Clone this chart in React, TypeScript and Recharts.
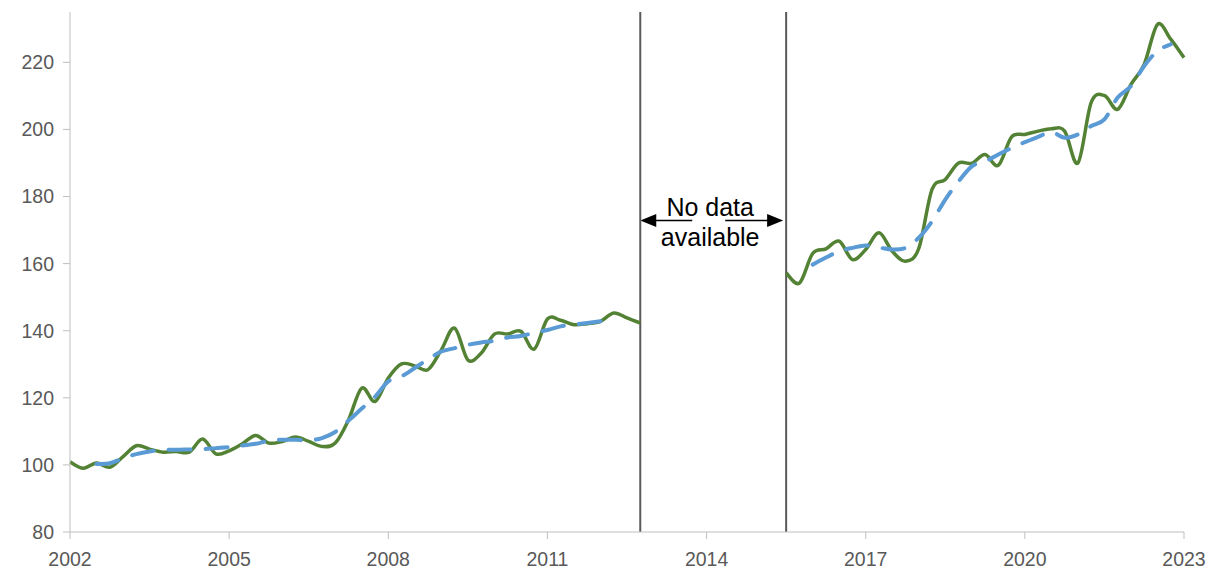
import { Line, LineChart, ReferenceArea, ReferenceLine, XAxis, YAxis } from "recharts";

// quarterly index series, 2002Q1 = 0
const startYear = 2002;
const yearTicks = [2002, 2005, 2008, 2011, 2014, 2017, 2020, 2023];
const valueTicks = [80, 100, 120, 140, 160, 180, 200, 220];

// actual, 2002Q1..2012Q4
const actualA = [
  100.9, 99.0, 100.6, 99.3, 102.5, 105.7, 104.7, 103.8, 104.0, 103.8, 107.7, 103.3,
  104.2, 106.3, 108.8, 106.5, 107.0, 108.3, 107.0, 105.5, 106.5, 113.4, 122.9, 118.9,
  125.9, 130.1, 129.5, 128.4, 134.3, 140.8, 131.3, 133.3, 139.0, 139.0, 139.8, 134.5,
  143.5, 143.1, 141.8, 142.1, 142.8, 145.3, 143.8, 142.3,
];
// actual, 2015Q3..2023Q1
const actualB = [
  157.2, 154.2, 163.0, 164.4, 166.7, 161.2, 164.2, 169.2, 163.7, 160.7, 164.5, 182.1,
  185.1, 190.0, 189.9, 192.5, 189.3, 197.8, 198.5, 199.5, 200.2, 199.5, 190.0, 208.0,
  210.1, 206.0, 213.4, 219.4, 231.3, 226.9, 221.4,
];
// trend, 2002Q3..2012Q2
const trendA = [
  100.3, 100.5, 102.0, 103.2, 104.0, 104.5, 104.5, 104.6, 104.7, 105.0, 105.3, 105.8,
  106.3, 107.2, 107.5, 107.5, 107.3, 108.0, 109.8, 113.2, 116.8, 120.3, 124.9, 126.4,
  128.9, 131.5, 133.8, 134.8, 135.8, 136.5, 137.0, 138.0, 138.4, 139.4, 140.2, 141.3,
  141.8, 142.3, 142.8, 143.3,
];
// trend, 2016Q1..2022Q4
const trendB = [
  159.7, 161.8, 163.7, 164.7, 165.4, 164.8, 164.2, 164.7, 167.7, 172.6, 179.1, 184.5,
  189.0, 190.5, 192.5, 194.5, 196.2, 197.8, 199.2, 197.5, 198.5, 201.0, 203.0, 209.5,
  212.9, 218.9, 223.4, 225.4,
];
const actualAStart = 0;
const actualBStart = 54;
const trendAStart = 2;
const trendBStart = 56;
const gapFrom = 2012.75;
const gapTo = 2015.5;

const rows: { x: number; actual: number | null; trend: number | null }[] = [];
for (let i = 0; i <= 84; i++) rows.push({ x: startYear + i / 4, actual: null, trend: null });
actualA.forEach((v, k) => (rows[actualAStart + k].actual = v));
actualB.forEach((v, k) => (rows[actualBStart + k].actual = v));
trendA.forEach((v, k) => (rows[trendAStart + k].trend = v));
trendB.forEach((v, k) => (rows[trendBStart + k].trend = v));

if (typeof document !== "undefined") document.body.style.margin = "0";

// Excel-style smoothed line (Catmull-Rom through the points)
function smooth(context: any) {
  let pts: number[][] = [];
  return {
    areaStart() {},
    areaEnd() {},
    lineStart() {
      pts = [];
    },
    lineEnd() {
      const n = pts.length;
      if (!n) return;
      context.moveTo(pts[0][0], pts[0][1]);
      for (let i = 0; i < n - 1; i++) {
        const p0 = pts[i - 1] || pts[i];
        const p1 = pts[i];
        const p2 = pts[i + 1];
        const p3 = pts[i + 2] || p2;
        context.bezierCurveTo(
          p1[0] + (p2[0] - p0[0]) / 6,
          p1[1] + (p2[1] - p0[1]) / 6,
          p2[0] - (p3[0] - p1[0]) / 6,
          p2[1] - (p3[1] - p1[1]) / 6,
          p2[0],
          p2[1]
        );
      }
    },
    point(x: number, y: number) {
      pts.push([+x, +y]);
    },
  };
}

function NoData(props: any) {
  const vb = props.viewBox;
  if (!vb) return null;
  const cx = vb.x + vb.width / 2 - 3;
  const ay = vb.y + 208.5;
  const l = vb.x;
  const r = vb.x + vb.width;
  return (
    <g>
      <line x1={l + 14} y1={ay} x2={cx - 18} y2={ay} stroke="#000" strokeWidth={1.5} />
      <path d={`M${l},${ay} L${l + 16},${ay - 6.5} L${l + 16},${ay + 6.5} Z`} fill="#000" />
      <line x1={cx + 15} y1={ay} x2={r - 16} y2={ay} stroke="#000" strokeWidth={1.5} />
      <path d={`M${r - 3},${ay} L${r - 19},${ay - 6.5} L${r - 19},${ay + 6.5} Z`} fill="#000" />
      <text x={cx} y={vb.y + 204} textAnchor="middle" fontSize={25} fill="#000" fontFamily="Liberation Sans, Arial, sans-serif">
        No data
      </text>
      <text x={cx} y={vb.y + 234} textAnchor="middle" fontSize={25} fill="#000" fontFamily="Liberation Sans, Arial, sans-serif">
        available
      </text>
    </g>
  );
}

const tickStyle = { fill: "#595959", fontSize: 19.5, fontFamily: "Liberation Sans, Arial, sans-serif" };

export default function App() {
  return (
    <div style={{ padding: "8px 0 0 8px" }}>
      <LineChart width={1199} height={566} data={rows} margin={{ top: 4, right: 23, bottom: 0, left: 0 }}>
        <XAxis
          dataKey="x"
          type="number"
          domain={[2002, 2023]}
          ticks={yearTicks}
          stroke="#bfbfbf"
          tickSize={7}
          tickMargin={13}
          height={42}
          tick={tickStyle}
          interval={0}
        />
        <YAxis
          type="number"
          domain={[80, 235]}
          ticks={valueTicks}
          stroke="#bfbfbf"
          width={62}
          tickSize={7}
          tickMargin={9}
          tick={tickStyle}
          interval={0}
        />
        <ReferenceArea x1={gapFrom} x2={gapTo} fillOpacity={0} strokeOpacity={0} label={(p: any) => <NoData {...p} />} />
        <ReferenceLine x={gapFrom} stroke="#595959" strokeWidth={2} />
        <ReferenceLine x={gapTo} stroke="#595959" strokeWidth={2} />
        <Line
          dataKey="actual"
          type={smooth as any}
          stroke="#548235"
          strokeWidth={3.5}
          dot={false}
          activeDot={false}
          isAnimationActive={false}
        />
        <Line
          dataKey="trend"
          type={smooth as any}
          stroke="#5b9bd5"
          strokeWidth={4}
          strokeDasharray="22 15"
          strokeLinecap="round"
          dot={false}
          activeDot={false}
          isAnimationActive={false}
        />
      </LineChart>
    </div>
  );
}
